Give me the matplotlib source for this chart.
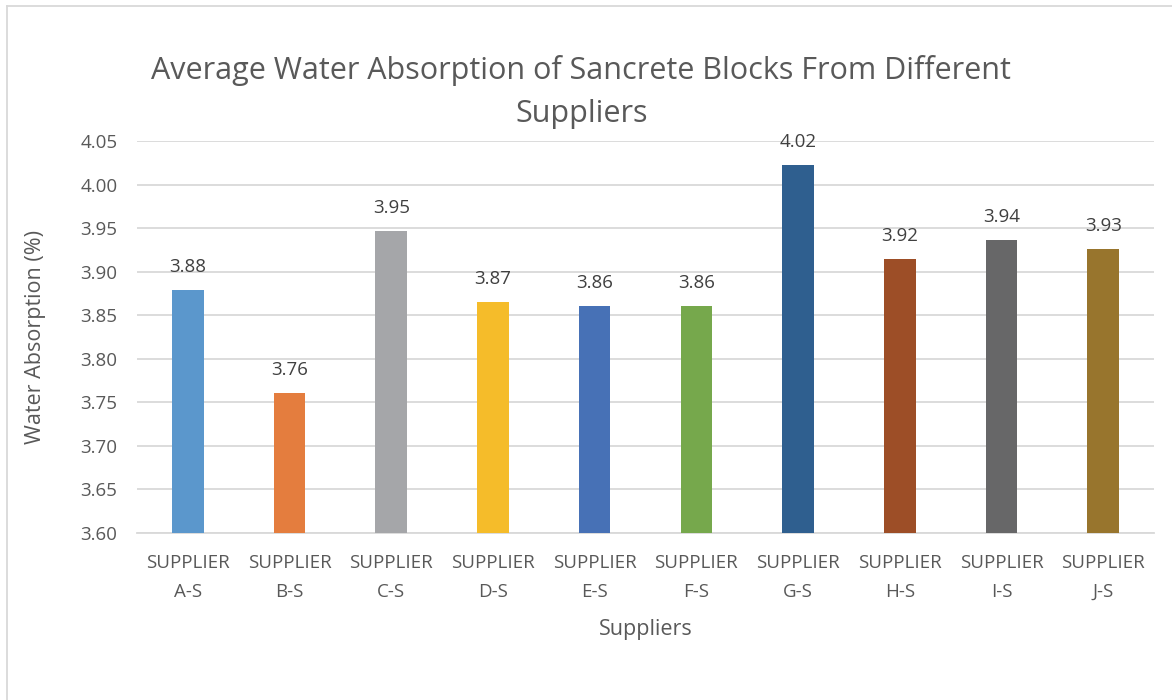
import numpy as np
import matplotlib
matplotlib.use("Agg")
import matplotlib.pyplot as plt
from matplotlib.lines import Line2D

# Data
suppliers = ["SUPPLIER\nA-S", "SUPPLIER\nB-S", "SUPPLIER\nC-S", "SUPPLIER\nD-S", "SUPPLIER\nE-S",
             "SUPPLIER\nF-S", "SUPPLIER\nG-S", "SUPPLIER\nH-S", "SUPPLIER\nI-S", "SUPPLIER\nJ-S"]
absorption = [3.879, 3.761, 3.947, 3.865, 3.861, 3.861, 4.022, 3.915, 3.936, 3.926]
bar_colors = ["#5B97CC", "#E47D3E", "#A5A6A9", "#F5BC2A", "#4771B6",
              "#76A84C", "#2F5F8F", "#9D4E27", "#676768", "#98752D"]
yticks = [3.60, 3.65, 3.70, 3.75, 3.80, 3.85, 3.90, 3.95, 4.00, 4.05]

plt.rcParams['font.family'] = ['Open Sans', 'DejaVu Sans']
text_col = "#595959"

fig = plt.figure(figsize=(11.72, 7.0), dpi=100)
ax = fig.add_axes([137/1172, 1 - 533/700, 1017/1172, 392/700])

x = np.arange(len(suppliers))
bars = ax.bar(x, absorption, width=0.31, color=bar_colors, zorder=3)

for xi, v in zip(x, absorption):
    ax.text(xi, v + 0.016, f"{v:.2f}", ha="center", va="bottom",
            fontsize=13.5, color="#404040")

ax.set_ylim(3.60, 4.05)
ax.set_xlim(-0.5, len(suppliers) - 0.5)
ax.set_yticks(yticks)
ax.set_yticklabels([f"{t:.2f}" for t in yticks])
ax.set_xticks(x)
ax.set_xticklabels(suppliers, linespacing=1.8)
ax.tick_params(axis="both", length=0, labelsize=13.5, labelcolor=text_col)
ax.tick_params(axis="x", pad=15)
ax.tick_params(axis="y", pad=14)

ax.grid(axis="y", color="#D9D9D9", linewidth=1.3, zorder=0)
for s in ["top", "right", "left"]:
    ax.spines[s].set_visible(False)
ax.spines["bottom"].set_color("#D9D9D9")
ax.spines["bottom"].set_linewidth(1.3)

ax.set_ylabel("Water Absorption (%)", fontsize=15.5, color=text_col, labelpad=25)
ax.set_xlabel("Suppliers", fontsize=15.5, color=text_col, labelpad=13)

fig.text(0.496, 1 - 92/700, "Average Water Absorption of Sancrete Blocks From Different\nSuppliers",
         ha="center", va="center", fontsize=22, color=text_col, linespacing=1.55)

# chart area border (left and top edges visible)
fig.add_artist(Line2D([6.5/1172, 6.5/1172], [0, 1 - 5.5/700], transform=fig.transFigure,
                      color="#D9D9D9", linewidth=1.3))
fig.add_artist(Line2D([6.5/1172, 1], [1 - 5.5/700, 1 - 5.5/700], transform=fig.transFigure,
                      color="#D9D9D9", linewidth=1.3))

fig.savefig("out.png", dpi=100, facecolor="white")
